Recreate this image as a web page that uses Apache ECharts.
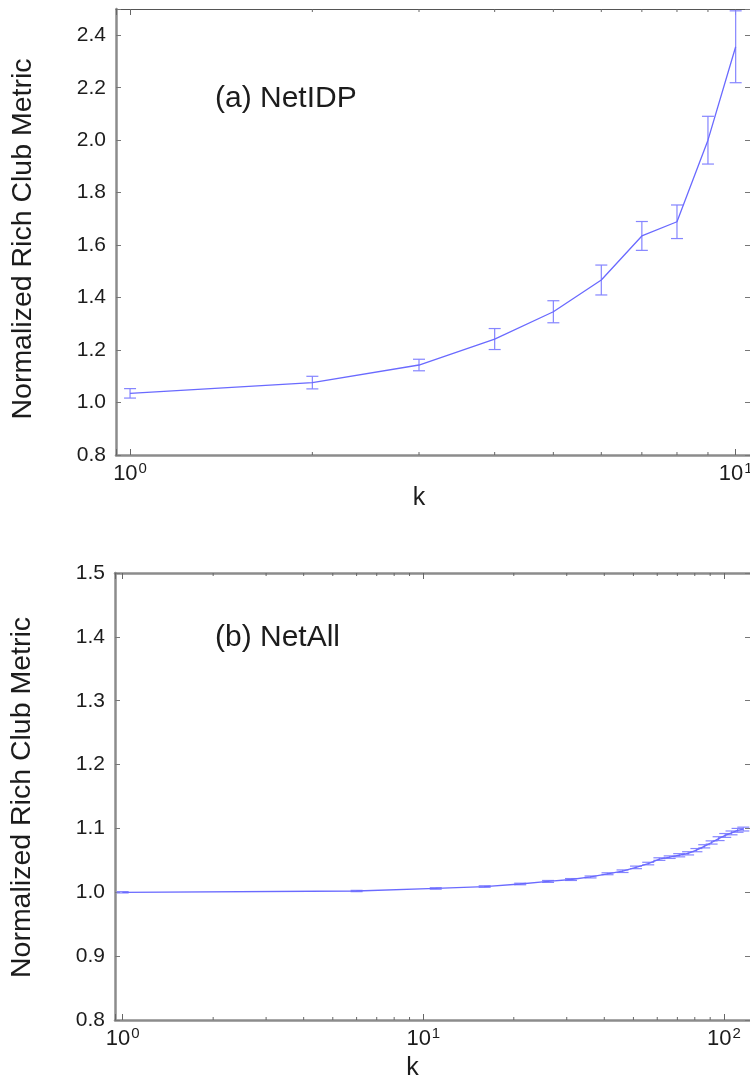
<!DOCTYPE html>
<html><head><meta charset="utf-8">
<script src="https://cdn.jsdelivr.net/npm/echarts@6/dist/echarts.min.js"></script>
<style>html,body{margin:0;padding:0;background:#fff}#c{width:750px;height:1076px}</style>
</head><body><div id="c"></div>
<script>
// Panel (a) NetIDP
const kA = [1, 2, 3, 4, 5, 6, 7, 8, 9, 10];
const rcA = [1.035, 1.076, 1.143, 1.242, 1.346, 1.467, 1.635, 1.689, 2.000, 2.356];
const errA = [0.018, 0.024, 0.022, 0.040, 0.042, 0.057, 0.055, 0.064, 0.091, 0.137];
// Panel (b) NetAll
const kB = [1, 6, 11, 16, 21, 26, 31, 36, 41, 46, 51, 56, 61, 66, 71, 76, 81, 86, 91, 96, 101, 106, 111, 116];
const rcB = [1.000, 1.002, 1.006, 1.009, 1.013, 1.017, 1.020, 1.024, 1.029, 1.033, 1.039, 1.045,
             1.052, 1.055, 1.058, 1.061, 1.066, 1.072, 1.078, 1.084, 1.089, 1.093, 1.097, 1.099];
const errB = [0.001, 0.001, 0.0012, 0.0012, 0.0012, 0.0015, 0.0015, 0.0015, 0.0015, 0.002, 0.002, 0.002,
              0.002, 0.002, 0.0025, 0.0025, 0.0025, 0.0025, 0.0025, 0.003, 0.003, 0.003, 0.003, 0.003];
// minor tick positions on log axes
const minorA = [2, 3, 4, 5, 6, 7, 8, 9];
const minorB = [2, 3, 4, 5, 6, 7, 8, 9, 20, 30, 40, 50, 60, 70, 80, 90];
const titleA = '(a) NetIDP';
const titleB = '(b) NetAll';
const yName = 'Normalized Rich Club Metric';
const xName = 'k';

const FONT = '"Liberation Sans", Arial, Helvetica, sans-serif';
const TXT = '#1c1c1c';
const LINE = '#6a6aff';
const ERR = '#8585ff';

const chart = echarts.init(document.getElementById('c'), null, {renderer: 'canvas'});

function supFmt(v) {
  const l = Math.log10(v);
  const e = Math.round(l);
  if (Math.abs(l - e) > 1e-6) return '';
  return '{b|10}{s|' + e + '}';
}
const supRich = {
  b: {fontSize: 22, fontFamily: FONT, color: TXT, lineHeight: 24, verticalAlign: 'bottom'},
  s: {fontSize: 15, fontFamily: FONT, color: TXT, lineHeight: 24, verticalAlign: 'top', padding: [0, 0, 0, 1]}
};

function errRender(params, api) {
  const k = api.value(0), lo = api.value(1), hi = api.value(2);
  const pLo = api.coord([k, lo]), pHi = api.coord([k, hi]);
  const w = 6;
  const style = {stroke: ERR, lineWidth: 1.2, fill: null};
  return {type: 'group', children: [
    {type: 'line', shape: {x1: pLo[0], y1: pLo[1], x2: pHi[0], y2: pHi[1]}, style: style},
    {type: 'line', shape: {x1: pLo[0] - w, y1: pLo[1], x2: pLo[0] + w, y2: pLo[1]}, style: style},
    {type: 'line', shape: {x1: pHi[0] - w, y1: pHi[1], x2: pHi[0] + w, y2: pHi[1]}, style: style}
  ]};
}
function minorRender(yMin, yMax) {
  return function (params, api) {
    const x = api.value(0);
    const b = api.coord([x, yMin]), t = api.coord([x, yMax]);
    const style = {stroke: '#666', lineWidth: 1};
    return {type: 'group', silent: true, children: [
      {type: 'line', shape: {x1: b[0], y1: b[1], x2: b[0], y2: b[1] - 3}, style: style},
      {type: 'line', shape: {x1: t[0], y1: t[1], x2: t[0], y2: t[1] + 3}, style: style}
    ]};
  };
}

function xAxes(grid, min, max, nameGap, namePad, topColor, topWidth) {
  return [
    {gridIndex: grid, type: 'log', logBase: 10, min: min, max: max, position: 'bottom',
     axisLine: {show: true, lineStyle: {color: '#8c8c8c', width: 2.5}},
     axisTick: {show: true, inside: true, length: 6, lineStyle: {color: '#666', width: 1}},
     minorTick: {show: false}, splitLine: {show: false}, minorSplitLine: {show: false},
     axisLabel: {formatter: supFmt, margin: 6, rich: supRich, color: TXT, hideOverlap: false},
     name: xName, nameLocation: 'middle', nameGap: nameGap,
     nameTextStyle: {fontFamily: FONT, fontSize: 25, color: TXT, padding: namePad}},
    {gridIndex: grid, type: 'log', logBase: 10, min: min, max: max, position: 'top',
     axisLine: {show: true, lineStyle: {color: topColor, width: topWidth}},
     axisTick: {show: true, inside: true, length: 6, lineStyle: {color: '#666', width: 1}},
     splitLine: {show: false}, axisLabel: {show: false}}
  ];
}
function yAxes(grid, min, max, interval, nameGap, namePad) {
  return [
    {gridIndex: grid, type: 'value', min: min, max: max, interval: interval, position: 'left',
     axisLine: {show: true, lineStyle: {color: '#8c8c8c', width: 2.5}},
     axisTick: {show: true, inside: true, length: 5, lineStyle: {color: '#777', width: 1}},
     splitLine: {show: false},
     axisLabel: {
       margin: 10, fontFamily: FONT, fontSize: 21, color: TXT,
       formatter: function (v) {
         const r = v / interval;
         if (Math.abs(r - Math.round(r)) > 1e-6) return '';
         return v.toFixed(1);
       }
     },
     name: yName, nameLocation: 'middle', nameGap: nameGap, nameRotate: 90,
     nameTextStyle: {fontFamily: FONT, fontSize: 28.5, color: TXT, padding: namePad}},
    {gridIndex: grid, type: 'value', min: min, max: max, interval: interval, position: 'right',
     axisLine: {show: true, lineStyle: {color: '#666', width: 1}},
     axisTick: {show: true, inside: true, length: 5, lineStyle: {color: '#777', width: 1}},
     splitLine: {show: false}, axisLabel: {show: false}}
  ];
}

const option = {
  animation: false,
  backgroundColor: '#fff',
  textStyle: {fontFamily: FONT},
  title: [
    {text: titleA, left: 215, top: 84, padding: 0, textStyle: {fontFamily: FONT, fontSize: 30, fontWeight: 'normal', color: TXT}},
    {text: titleB, left: 215, top: 623, padding: 0, textStyle: {fontFamily: FONT, fontSize: 30, fontWeight: 'normal', color: TXT}}
  ],
  grid: [
    {left: 116, top: 9, right: 0, height: 446, containLabel: false, outerBoundsMode: 'none'},
    {left: 115, top: 573, right: 0, height: 447, containLabel: false, outerBoundsMode: 'none'}
  ],
  xAxis: [].concat(
    xAxes(0, 0.948, 10.56, 21, [0, 28, 0, 0], '#555', 1),
    xAxes(1, 0.943, 122.1, 36, [0, 40, 0, 0], '#8c8c8c', 2.5)
  ),
  yAxis: [].concat(
    yAxes(0, 0.8, 2.5, 0.2, 78, [0, 14, 0, 0]),
    yAxes(1, 0.8, 1.5, 0.1, 78, [0, 2, 0, 0])
  ),
  series: [
    {type: 'line', xAxisIndex: 0, yAxisIndex: 0, symbol: 'none', showSymbol: false,
     data: kA.map((k, i) => [k, rcA[i]]), lineStyle: {color: LINE, width: 1.3}, z: 3},
    {type: 'custom', xAxisIndex: 0, yAxisIndex: 0, renderItem: errRender, encode: {x: 0, y: [1, 2]},
     data: kA.map((k, i) => [k, rcA[i] - errA[i], rcA[i] + errA[i]]), z: 2, clip: false},
    {type: 'custom', xAxisIndex: 0, yAxisIndex: 0, renderItem: minorRender(0.8, 2.5), encode: {x: 0, y: 1},
     data: minorA.map(v => [v, 0.8]), z: 4, silent: true},
    {type: 'line', xAxisIndex: 2, yAxisIndex: 2, symbol: 'none', showSymbol: false,
     data: kB.map((k, i) => [k, rcB[i]]), lineStyle: {color: LINE, width: 1.3}, z: 3},
    {type: 'custom', xAxisIndex: 2, yAxisIndex: 2, renderItem: errRender, encode: {x: 0, y: [1, 2]},
     data: kB.map((k, i) => [k, rcB[i] - errB[i], rcB[i] + errB[i]]), z: 2},
    {type: 'custom', xAxisIndex: 2, yAxisIndex: 2, renderItem: minorRender(0.8, 1.5), encode: {x: 0, y: 1},
     data: minorB.map(v => [v, 0.8]), z: 4, silent: true}
  ]
};
chart.setOption(option);
</script>
</body></html>
